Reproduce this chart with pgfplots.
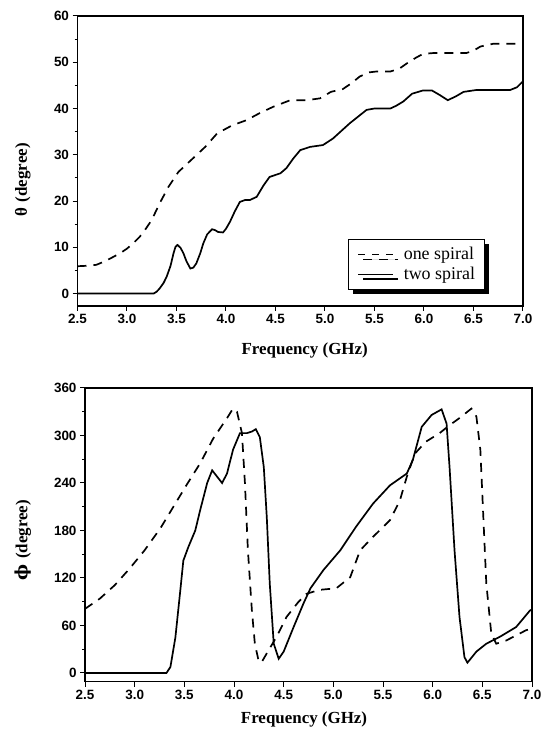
\documentclass[border=0pt]{standalone}
\usepackage{fontspec}
\setmainfont{Liberation Serif}
\setsansfont{Liberation Sans}
\newfontfamily\dejavu{DejaVu Serif}
\usepackage{pgfplots}
\pgfplotsset{compat=1.18}
\usetikzlibrary{shadows}

\pgfplotsset{
  common/.style={
    scale only axis,
    xmin=2.5, xmax=7,
    xtick={2.5,3,3.5,4,4.5,5,5.5,6,6.5,7},
    tick align=outside,
    tick pos=left,
    major tick length=5bp,
    minor tick length=3bp,
    every tick/.style={black, line width=1bp},
    axis line style={line width=1.3bp},
    /pgf/number format/assume math mode=true,
    tick label style={font=\sffamily\bfseries\fontsize{13.5}{14}\selectfont},
    xticklabel style={/pgf/number format/.cd, fixed, fixed zerofill, precision=1},
    yticklabel style={/pgf/number format/.cd, fixed, precision=0},
    label style={font=\bfseries\fontsize{17}{19}\selectfont},
  },
  dsh/.style={black, no marks, line width=1.7bp, dash pattern=on 9bp off 7bp,
    legend image code/.code={\draw[black, line width=1.5bp, dash pattern=on 7bp off 7bp] (0bp,0bp) -- (35bp,0bp);}},
  sld/.style={black, no marks, line width=1.7bp, solid,
    legend image code/.code={\draw[black, line width=1.5bp] (0bp,0bp) -- (35bp,0bp);}},
}

\begin{document}
\begin{tikzpicture}
\path (0,0) rectangle (545bp,731bp);

% ---------------- top: theta ----------------
\begin{axis}[common,
  at={(77.5bp,425bp)}, anchor=south west,
  width=445.5bp, height=290bp,
  ymin=-2.7, ymax=60,
  ytick={0,10,20,30,40,50,60},
  minor y tick num=1,
  xlabel={Frequency (GHz)},
  ylabel={θ\,\,(degree)},
  xlabel style={at={(axis description cs:0.51,-0.152)}, anchor=center},
  ylabel style={at={(axis description cs:-0.123,0.435)}, anchor=center, rotate=0},
  legend style={at={(rel axis cs:0.607,0.231)}, anchor=north west,
    draw=black, line width=0.8bp, fill=white,
    inner xsep=9bp, inner ysep=6bp, row sep=2bp, column sep=10bp,
    font=\fontsize{18}{20}\selectfont,
    nodes={inner xsep=0bp},
    drop shadow={shadow xshift=5bp, shadow yshift=-5bp, fill=black, opacity=1}},
  legend cell align=left,
]
\addplot[dsh] coordinates {
(2.5,5.9) (2.6,6.0) (2.69,6.2) (2.78,7.0) (2.86,7.9) (2.93,8.7) (3.0,9.7)
(3.07,11.0) (3.13,12.3) (3.19,14.0) (3.25,15.9) (3.33,19.5) (3.42,23.1)
(3.52,26.3) (3.65,28.9) (3.79,31.7) (3.91,34.6) (4.04,36.1) (4.12,36.8)
(4.21,37.5) (4.34,39.0) (4.48,40.4) (4.65,41.8) (4.82,41.8) (4.95,42.2)
(5.06,43.6) (5.18,44.2) (5.27,45.5) (5.35,46.9) (5.44,47.8) (5.52,48.0)
(5.66,48.0) (5.75,48.6) (5.83,49.8) (5.92,51.0) (5.99,51.8) (6.1,52.0)
(6.26,52.0) (6.43,52.0) (6.5,52.5) (6.57,53.4) (6.7,54.0) (6.85,54.0) (7.0,54.0)
};
\addlegendentry{one spiral}
\addplot[sld] coordinates {
(2.5,0) (2.8,0) (3.1,0) (3.27,0) (3.3,0.4) (3.33,1.1) (3.37,2.3) (3.40,3.6)
(3.44,6.0) (3.47,8.7) (3.49,10.1) (3.51,10.5) (3.54,9.9) (3.57,8.7) (3.60,7.0)
(3.64,5.4) (3.67,5.6) (3.70,6.5) (3.74,8.7) (3.77,10.8) (3.81,12.8) (3.86,13.9)
(3.89,13.7) (3.92,13.3) (3.97,13.2) (4.0,14.0) (4.04,15.5) (4.09,17.8)
(4.14,19.8) (4.19,20.2) (4.24,20.2) (4.31,20.9) (4.38,23.4) (4.44,25.2)
(4.55,26.0) (4.61,27.1) (4.68,29.2) (4.75,31.0) (4.85,31.7) (4.98,32.1)
(5.08,33.5) (5.25,36.8) (5.42,39.7) (5.5,40.0) (5.66,40.0) (5.72,40.6)
(5.79,41.5) (5.88,43.2) (5.99,43.9) (6.08,43.9) (6.16,42.9) (6.24,41.8)
(6.32,42.6) (6.40,43.6) (6.53,44.0) (6.7,44.0) (6.87,44.0) (6.94,44.6) (7.0,45.9)
};
\addlegendentry{two spiral}
\end{axis}

% ---------------- bottom: phi ----------------
\begin{axis}[common,
  at={(85bp,49.3bp)}, anchor=south west,
  width=447bp, height=293.7bp,
  ymin=-11, ymax=360,
  ytick={0,60,120,180,240,300,360},
  minor y tick num=1,
  xlabel={Frequency (GHz)},
  ylabel={{\dejavu\bfseries ϕ}\,\,(degree)},
  xlabel style={at={(axis description cs:0.49,-0.130)}, anchor=center},
  ylabel style={at={(axis description cs:-0.139,0.482)}, anchor=center, rotate=0},
]
\addplot[dsh] coordinates {
(2.5,81) (2.65,94) (2.8,111) (2.95,132) (3.10,155) (3.26,183) (3.39,210)
(3.52,237) (3.66,265) (3.79,296) (3.93,322) (3.99,334) (4.03,330) (4.08,303)
(4.11,240) (4.14,155) (4.18,79) (4.21,37) (4.25,14) (4.28,14) (4.34,27)
(4.43,46) (4.53,71) (4.65,90) (4.73,100) (4.86,105) (5.03,107) (5.17,121)
(5.27,155) (5.40,172) (5.57,193) (5.67,218) (5.74,248) (5.82,277) (5.93,292)
(6.07,303) (6.17,313) (6.27,322) (6.39,334) (6.44,324) (6.48,282) (6.51,197)
(6.54,113) (6.59,50) (6.64,37) (6.74,41) (6.94,54) (7.0,56)
};
\addplot[sld] coordinates {
(2.5,0) (2.9,0) (3.2,0) (3.32,0) (3.36,7.6) (3.41,45) (3.46,105) (3.49,142)
(3.54,159) (3.61,180) (3.66,206) (3.73,240) (3.78,256) (3.83,248) (3.88,240)
(3.93,252) (3.99,282) (4.06,303) (4.13,303) (4.18,305) (4.22,308) (4.26,298)
(4.30,260) (4.33,197) (4.36,113) (4.40,37) (4.45,18) (4.50,27) (4.60,58)
(4.70,88) (4.77,107) (4.90,130) (5.07,155) (5.23,185) (5.40,214) (5.57,237)
(5.74,252) (5.80,269) (5.89,311) (5.99,326) (6.09,333) (6.14,315) (6.17,260)
(6.22,155) (6.27,71) (6.32,20) (6.35,13) (6.44,27) (6.54,37) (6.68,46)
(6.84,58) (6.98,79) (7.0,80)
};
\end{axis}
\end{tikzpicture}
\end{document}
